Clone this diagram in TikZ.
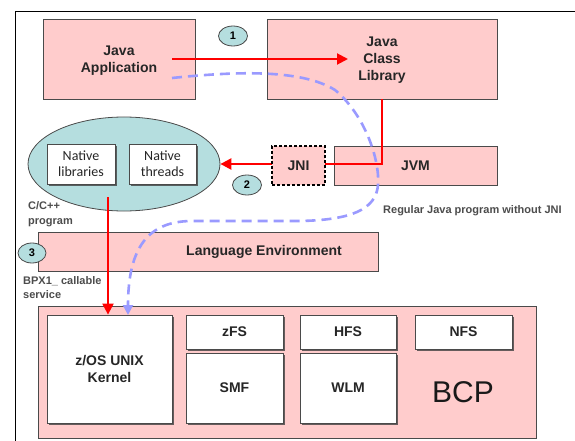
\documentclass[tikz,border=0pt]{standalone}
\usepackage{fontspec}
\setmainfont{Liberation Sans}
\newfontfamily\calfont{Carlito}
\usetikzlibrary{arrows.meta,shapes.geometric,shadows}
\definecolor{pinkf}{HTML}{FFCCCC}
\definecolor{tealf}{HTML}{B5DEDF}
\definecolor{bord}{HTML}{4A4A4A}
\definecolor{dashblue}{HTML}{9A9AFF}
\tikzset{
 pbox/.style={draw=bord,line width=0.8pt,fill=pinkf,inner sep=0pt,align=center,text=black!85,
   drop shadow={shadow xshift=1pt,shadow yshift=-1pt,fill=black!60,opacity=0.7}},
 wbox/.style={draw=bord,line width=0.8pt,fill=white,inner sep=0pt,align=center,text=black!85,
   drop shadow={shadow xshift=1.6pt,shadow yshift=-1.6pt,fill=black!75,opacity=0.8}},
 nbox/.style={wbox,font=\calfont\fontsize{14}{16}\selectfont},
 num/.style={ellipse,draw=bord,line width=0.8pt,fill=tealf,minimum width=29pt,minimum height=20pt,
   inner sep=0pt,font=\fontsize{11}{13}\selectfont\bfseries},
 small/.style={font=\fontsize{11}{14.5}\selectfont\bfseries,text=black!70,align=left,inner sep=0pt},
 redline/.style={draw=red,line width=2.4pt},
 blueline/.style={draw=dashblue,line width=2.6pt,dash pattern=on 10pt off 6pt},
 rtip/.style={-{Triangle[length=11pt,width=11pt]}},
}
\begin{document}
\begin{tikzpicture}[x=1pt,y=-1pt,font=\fontsize{14}{17}\selectfont\bfseries]
\useasboundingbox (0,0) rectangle (575,441);
\fill[white] (0,0) rectangle (575,441);
\draw[line width=0.9pt] (575,11) -- (15,11) -- (15,441);

% main boxes
\node[pbox,minimum width=152pt,minimum height=80pt,text depth=-2pt] (japp) at (119,59) {Java\\Application};
\node[pbox,minimum width=230pt,minimum height=80pt,text depth=-2pt] (clib) at (382,59) {Java\\Class\\Library};
\node[pbox,minimum width=163pt,minimum height=39pt] (jvm) at (415.5,165.5) {JVM};
\node[ellipse,draw=bord,line width=0.8pt,fill=tealf,minimum width=192pt,minimum height=94pt] (ell) at (124,164) {};
\node[nbox,minimum width=68pt,minimum height=40pt] (nlib) at (81,164) {Native\\libraries};
\node[nbox,minimum width=67pt,minimum height=40pt] (nthr) at (162.5,164) {Native\\threads};
\node[pbox,minimum width=340pt,minimum height=39pt] (lenv) at (208,251.5) {};
\node[text=black!85] (lenvt) at (264,252) {Language Environment};
\node[pbox,minimum width=498pt,minimum height=132pt] (bcp) at (287,372) {};
\node[wbox,minimum width=125pt,minimum height=108pt] (kernel) at (109.5,369) {z/OS UNIX\\Kernel};
\node[wbox,minimum width=97pt,minimum height=34pt] (zfs) at (234.5,332) {zFS};
\node[wbox,minimum width=97pt,minimum height=70pt] (smf) at (234.5,388) {SMF};
\node[wbox,minimum width=96pt,minimum height=34pt] (hfs) at (348,332) {HFS};
\node[wbox,minimum width=96pt,minimum height=70pt] (wlm) at (348,388) {WLM};
\node[wbox,minimum width=97pt,minimum height=34pt] (nfs) at (463.5,332) {NFS};
\node[font=\fontsize{30}{32}\selectfont,text=black!90] (bcpt) at (463,392) {BCP};

% labels
\node[small,anchor=west] (cpp) at (28,214) {C/C++\\program};
\node[small,anchor=west] (bpx) at (23,287.5) {BPX1\_ callable\\service};
\node[small,anchor=west] (reg) at (383,211) {Regular Java program without JNI};

% connectors
\coordinate (bstart) at (172,78);
\coordinate (bend) at (128,315);
\draw[blueline,-{Triangle[length=10pt,width=10pt]}] (bstart) .. controls (230,72) and (300,68) .. (335,90)
  .. controls (365,115) and (380,160) .. (378,185)
  .. controls (376,210) and (350,220) .. (300,221) -- (190,221)
  .. controls (150,222) and (128,245) .. (bend);
\coordinate (rstart) at (172,59);
\draw[redline,line width=2pt,rtip] (rstart) -- (348,59);
\draw[redline,rtip] (clib.south) |- (ell.east);
\coordinate (cstart) at (108,197);
\draw[redline,line width=2.2pt,rtip] (cstart) -- (cstart |- kernel.north);

% JNI on top
\node[draw=black,dashed,dash pattern=on 3pt off 2pt,line width=1.4pt,fill=pinkf,minimum width=53pt,minimum height=39pt,inner sep=0pt,text=black!85] (jni) at (298.5,165.5) {JNI};

% numbers
\node[num] (n1) at (233,36) {1};
\node[num] (n2) at (247,185) {2};
\node[num,minimum width=28pt] (n3) at (32,253) {3};
\end{tikzpicture}
\end{document}
